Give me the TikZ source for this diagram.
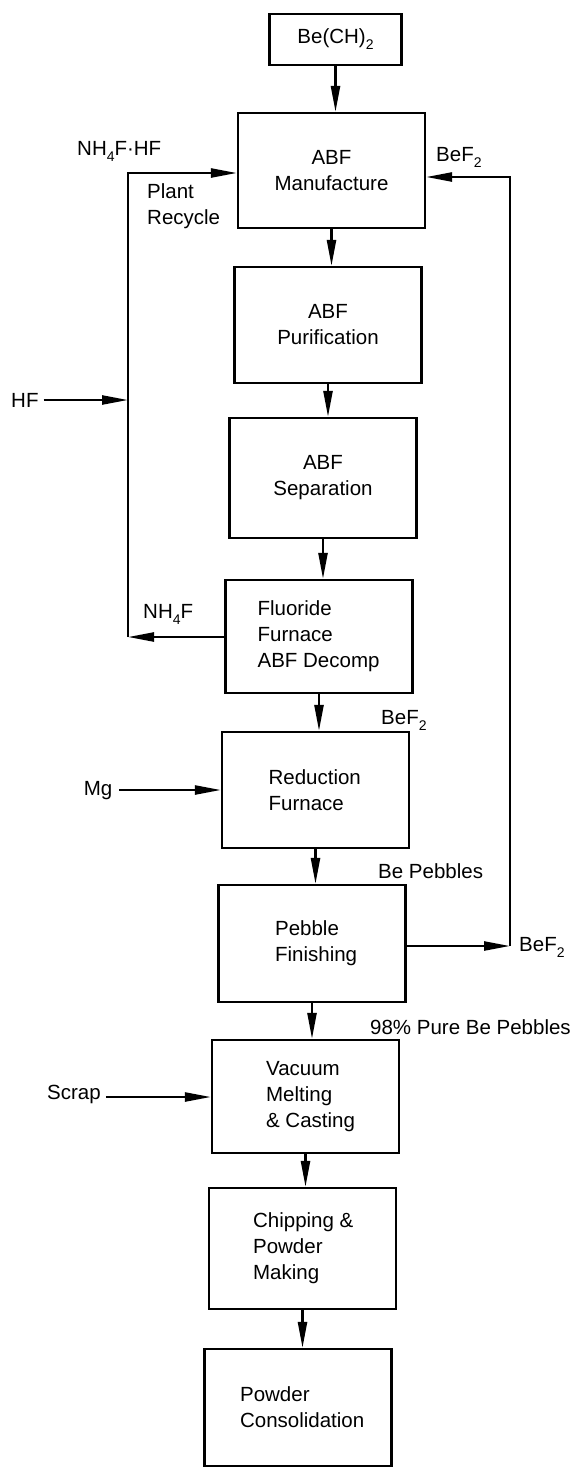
\documentclass[tikz,border=0pt]{standalone}
\usepackage{fontspec}
\setmainfont{Liberation Sans}
\usetikzlibrary{arrows.meta}
\newcommand\sbx[1]{\raisebox{-6pt}{\fontsize{14}{14}\selectfont #1}}
\begin{document}
\begin{tikzpicture}[x=1pt,y=-1pt,
  every node/.style={font=\fontsize{20.5}{26}\selectfont, inner sep=0pt},
  proc/.style={draw, line width=2.2pt, minimum width=187pt, align=center},
  lbl/.style={anchor=base west},
  inl/.style={anchor=west, align=left},
  arr/.style={line width=2.4pt, -{Triangle[length=26pt,width=9pt]}},
  ln/.style={line width=2.4pt}]
\useasboundingbox (0,0) rectangle (575,1468);

% process boxes
\node[proc, minimum width=132pt, minimum height=51pt] (be) at (335.5,39.5) {Be(CH)\sbx{2}};
\node[proc, minimum height=115pt] (abfm) at (331.5,170.5) {ABF\\Manufacture};
\node[proc, minimum height=116pt] (abfp) at (328,325) {ABF\\Purification};
\node[proc, minimum height=120pt] (abfs) at (323,478) {ABF\\Separation};
\node[proc, minimum height=113pt] (fluor) at (319,636.5) {};
\node[proc, minimum height=116pt] (red) at (315.5,790) {};
\node[proc, minimum height=117pt] (peb) at (312,943.5) {};
\node[proc, minimum height=113pt] (vac) at (305.5,1096.5) {};
\node[proc, minimum height=121pt] (chip) at (302.5,1248.5) {};
\node[proc, minimum height=117pt] (pow) at (298,1407.5) {};

% left-aligned texts inside boxes
\node[inl] (fluorT) at ([xshift=33pt]fluor.west) {Fluoride\\Furnace\\ABF Decomp};
\node[inl] (redT) at ([xshift=47.5pt]red.west) {Reduction\\Furnace};
\node[inl] (pebT) at ([xshift=57.5pt]peb.west) {Pebble\\Finishing};
\node[inl] (vacT) at ([xshift=55pt]vac.west) {Vacuum\\Melting\\\& Casting};
\node[inl] (chipT) at ([xshift=45pt]chip.west) {Chipping \&\\Powder\\Making};
\node[inl] (powT) at ([xshift=36.5pt]pow.west) {Powder\\Consolidation};

% main flow arrows
\draw[arr] (be.south) -- (be.south |- abfm.north);
\draw[arr] (abfm.south) -- (abfm.south |- abfp.north);
\draw[arr] (abfp.south) -- (abfp.south |- abfs.north);
\draw[arr] (abfs.south) -- (abfs.south |- fluor.north);
\draw[arr] (fluor.south) -- (fluor.south |- red.north);
\draw[arr] (red.south) -- (red.south |- peb.north);
\draw[arr] (peb.south) -- (peb.south |- vac.north);
\draw[arr] (vac.south) -- (vac.south |- chip.north);
\draw[arr] (chip.south) -- (chip.south |- pow.north);

% left recycle loop
\coordinate (lb) at (128,637);
\coordinate (lt) at (128,173);
\draw[arr] (fluor.west |- lb) -- (lb);
\draw[arr] (lb) -- (lt) -- (lt -| abfm.west);

% right BeF2 loop
\coordinate (rb) at (510,946);
\coordinate (rt) at (510,177);
\draw[arr] (peb.east |- rb) -- (rb);
\draw[arr] (rb) -- (rt) -- (rt -| abfm.east);

% side inputs
\node[lbl] (hf) at (11,407) {HF};
\draw[arr] ([xshift=5pt]hf.east |- 0,400) -- (lb |- 0,400);
\node[lbl] (mg) at (83.6,795) {Mg};
\draw[arr] ([xshift=7pt]mg.east |- red.west) -- (red.west);
\node[lbl] (scrap) at (47,1099) {Scrap};
\draw[arr] ([xshift=5pt]scrap.east |- 0,1097) -- (vac.west |- 0,1097);

% stream labels
\node[lbl] (nhhf) at (77,155) {NH\sbx{4}F{\textperiodcentered}HF};
\node[lbl, align=left] (plant) at (147,224) {Plant\\Recycle};
\node[lbl] (bef2a) at (436,161) {BeF\sbx{2}};
\node[lbl] (nh4f) at (143,618) {NH\sbx{4}F};
\node[lbl] (bef2b) at (381,724) {BeF\sbx{2}};
\node[lbl] (bepeb) at (378,878) {Be Pebbles};
\node[lbl] (bef2c) at (519,951) {BeF\sbx{2}};
\node[lbl] (pure) at (370,1034) {98\% Pure Be Pebbles};
\end{tikzpicture}
\end{document}
